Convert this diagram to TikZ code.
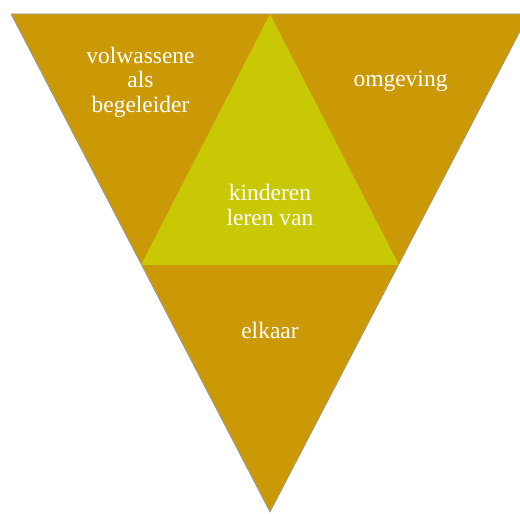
\documentclass[tikz,border=0pt]{standalone}
\usepackage{fontspec}
\setmainfont{Liberation Serif}
\usetikzlibrary{positioning}
\definecolor{oker}{RGB}{204,153,6}
\definecolor{geelgroen}{RGB}{200,200,5}

\begin{document}
\begin{tikzpicture}[
	x=1pt, y=1pt,
	outer/.style={fill=oker, draw=gray!80, line width=0.7pt},
	inner/.style={fill=geelgroen},
	label/.style={text=white, align=center, inner sep=0pt, font=\fontsize{23.5}{24.5}\selectfont}
]

\clip (0,0) rectangle (520,514);

\coordinate (tl) at (11,500);
\coordinate (tr) at (529,500);
\coordinate (bot) at (270,2);
\coordinate (top) at (270,500);
\coordinate (ml) at (141,249);
\coordinate (mr) at (399,249);

\draw[outer] (tl) -- (tr) -- (bot) -- cycle;
\fill[inner] (top) -- (ml) -- (mr) -- cycle;

\node[label] (volw) at (140.5,432) {volwassene\\als\\begeleider};
\node[label] (omg) at (400.5,433) {omgeving};
\node[label] (kind) at (270,309) {kinderen\\leren van};
\node[label] (elk) at (270,184) {elkaar};

\end{tikzpicture}
\end{document}
